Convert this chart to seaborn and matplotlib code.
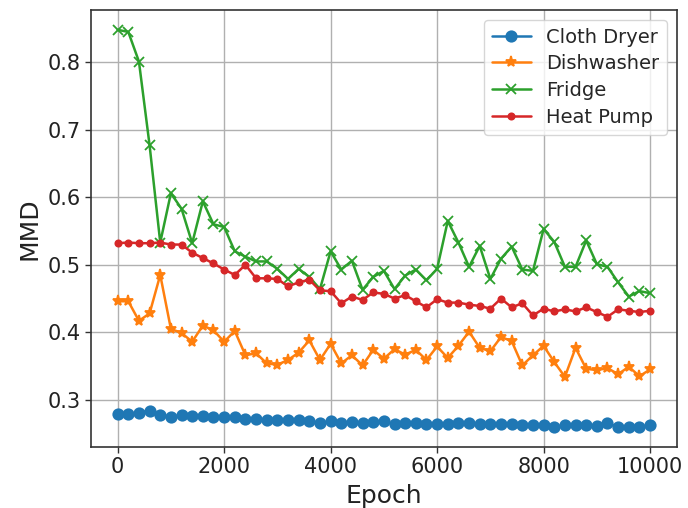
import numpy as np
import pandas as pd
import matplotlib
matplotlib.use("Agg")
import matplotlib.pyplot as plt
import seaborn as sns

epochs = list(range(0, 10001, 200))

cloth_dryer = [0.279, 0.279, 0.281, 0.284, 0.278, 0.275, 0.277, 0.276, 0.276, 0.274,
               0.274, 0.274, 0.272, 0.272, 0.270, 0.270, 0.270, 0.270, 0.268, 0.265,
               0.268, 0.266, 0.267, 0.266, 0.267, 0.268, 0.264, 0.265, 0.266, 0.264,
               0.264, 0.264, 0.266, 0.266, 0.264, 0.264, 0.264, 0.264, 0.262, 0.262,
               0.262, 0.260, 0.262, 0.262, 0.262, 0.261, 0.265, 0.260, 0.260, 0.260,
               0.262]
dishwasher = [0.446, 0.446, 0.417, 0.428, 0.485, 0.405, 0.399, 0.386, 0.410, 0.403,
              0.386, 0.402, 0.366, 0.369, 0.354, 0.352, 0.359, 0.370, 0.388, 0.359,
              0.383, 0.354, 0.366, 0.351, 0.374, 0.361, 0.375, 0.367, 0.374, 0.359,
              0.379, 0.362, 0.380, 0.401, 0.377, 0.372, 0.393, 0.387, 0.351, 0.366,
              0.380, 0.356, 0.334, 0.377, 0.346, 0.344, 0.347, 0.338, 0.349, 0.335,
              0.345]
fridge = [0.848, 0.845, 0.801, 0.677, 0.533, 0.606, 0.583, 0.532, 0.594, 0.560,
          0.556, 0.520, 0.512, 0.505, 0.505, 0.494, 0.479, 0.494, 0.482, 0.464,
          0.520, 0.493, 0.506, 0.463, 0.482, 0.491, 0.464, 0.484, 0.493, 0.477,
          0.494, 0.565, 0.533, 0.497, 0.528, 0.479, 0.509, 0.527, 0.493, 0.491,
          0.553, 0.534, 0.497, 0.497, 0.536, 0.501, 0.497, 0.474, 0.453, 0.461,
          0.458]
heat_pump = [0.532, 0.533, 0.532, 0.532, 0.533, 0.530, 0.530, 0.518, 0.510, 0.502,
             0.493, 0.485, 0.500, 0.480, 0.480, 0.479, 0.468, 0.474, 0.478, 0.462,
             0.461, 0.443, 0.453, 0.448, 0.459, 0.457, 0.450, 0.455, 0.446, 0.437,
             0.449, 0.444, 0.444, 0.441, 0.439, 0.435, 0.450, 0.437, 0.443, 0.425,
             0.435, 0.431, 0.434, 0.431, 0.437, 0.430, 0.423, 0.434, 0.432, 0.430,
             0.432]

series = {
    "Cloth Dryer": (cloth_dryer, "o", 7.5, "#1f77b4"),
    "Dishwasher": (dishwasher, "*", 8, "#ff7f0e"),
    "Fridge": (fridge, "x", 7, "#2ca02c"),
    "Heat Pump": (heat_pump, ".", 9, "#d62728"),
}

sns.set_theme(style="ticks", rc={
    "axes.grid": True,
    "grid.color": "#b0b0b0",
    "grid.linewidth": 1.0,
    "axes.edgecolor": "#333333",
    "axes.linewidth": 1.2,
})
plt.rcParams["font.family"] = ["DejaVu Sans"]

fig = plt.figure(figsize=(6.88, 5.08), dpi=100)
ax = fig.add_axes([0.1323, 0.1207, 0.8513, 0.8596])

for name, (vals, mk, ms, col) in series.items():
    df = pd.DataFrame({"Epoch": epochs, "MMD": vals})
    sns.lineplot(data=df, x="Epoch", y="MMD", ax=ax, label=name, color=col,
                 marker=mk, markersize=ms, markeredgecolor=col, markeredgewidth=1.3,
                 linewidth=1.8)

ax.set_xticks([0, 2000, 4000, 6000, 8000, 10000])
ax.set_yticks([0.3, 0.4, 0.5, 0.6, 0.7, 0.8])
ax.tick_params(axis="both", labelsize=15, length=4, width=1, color="#333333",
               labelcolor="#222222")
ax.set_xlabel("Epoch", fontsize=18, color="#222222", labelpad=5)
ax.set_ylabel("MMD", fontsize=18, color="#222222", labelpad=4)
ax.legend(loc="upper right", fontsize=14, frameon=True, framealpha=0.8,
          edgecolor="#cccccc", fancybox=True, borderaxespad=0.5,
          labelspacing=0.4)

fig.savefig("out.png", dpi=100)
